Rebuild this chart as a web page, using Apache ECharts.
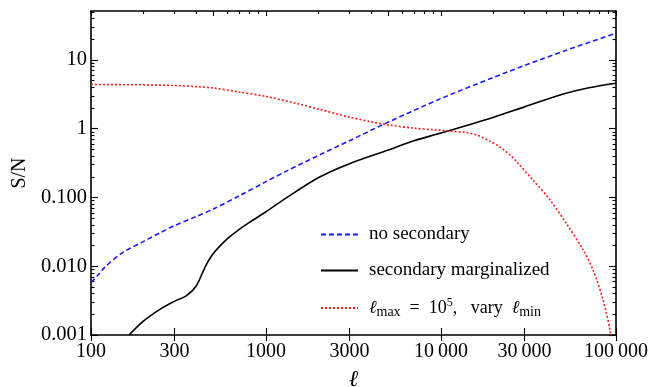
<!DOCTYPE html>
<html><head><meta charset="utf-8">
<script src="https://cdn.jsdelivr.net/npm/echarts@6/dist/echarts.min.js"></script>
<style>html,body{margin:0;padding:0;background:#fff}#c{width:664px;height:387px}</style>
</head><body><div id="c"></div>
<script>
// ---- data ----
const xMajorTicks = [100, 300, 1000, 3000, 10000, 30000, 100000];
const xTickLabels = ['100', '300', '1000', '3000', '10\u2009000', '30\u2009000', '100\u2009000'];
const yMajorTicks = [0.001, 0.01, 0.1, 1, 10];
const yTickLabels = ['0.001', '0.010', '0.100', '1', '10'];

const seriesNames = ['no secondary', 'secondary marginalized', 'lmax'];

const blueL = [100, 110, 120, 150, 200, 250, 300, 400, 500, 700, 1000, 1300, 2000, 3000, 5000, 10000, 20000, 30000, 50000, 100000];
const blueV = [0.0058, 0.0075, 0.0097, 0.0155, 0.023, 0.031, 0.039, 0.053, 0.068, 0.105, 0.17, 0.24, 0.41, 0.67, 1.25, 2.75, 5.6, 8.3, 13.4, 24.5];

const blackL = [165, 200, 250, 300, 350, 400, 450, 500, 600, 700, 800, 1000, 1300, 2000, 3000, 5000, 7000, 10000, 20000, 30000, 50000, 70000, 100000];
const blackV = [0.001, 0.0016, 0.0024, 0.0031, 0.0037, 0.0052, 0.0099, 0.0153, 0.025, 0.034, 0.043, 0.062, 0.098, 0.195, 0.31, 0.49, 0.67, 0.865, 1.47, 2.08, 3.2, 3.95, 4.6];

const redL = [100, 200, 300, 400, 500, 700, 1000, 1500, 2000, 3000, 4000, 5000, 7000, 9000, 11500, 14000, 16000, 19000, 22000, 25000, 27000, 33500, 42000, 52000, 65000, 74000, 84500, 92500, 94000];
const redV = [4.4, 4.35, 4.25, 4.1, 3.92, 3.43, 2.95, 2.33, 1.93, 1.48, 1.26, 1.14, 1.02, 0.97, 0.92, 0.88, 0.81, 0.66, 0.53, 0.41, 0.335, 0.18, 0.092, 0.042, 0.0172, 0.0088, 0.0032, 0.00118, 0.0008];

// ---- tick helpers ----
function minorList(lo, hi) {
  const out = [];
  for (let e = lo; e <= hi; e++) for (let m = 2; m <= 9; m++) out.push(m * Math.pow(10, e));
  return out;
}
function fiveList(lo, hi) {
  const out = [];
  for (let e = lo; e <= hi; e++) { out.push(Math.pow(10, e)); out.push(5 * Math.pow(10, e)); }
  return out;
}
function lookup(vals, labels) {
  return function (v) {
    for (let i = 0; i < vals.length; i++) if (Math.abs(v - vals[i]) / vals[i] < 1e-6) return labels[i];
    return '';
  };
}
const FONT = "'Liberation Serif','Times New Roman',serif";
const X_MIN = 100, X_MAX = 100000, Y_MIN = 0.001, Y_MAX = 51.6;

function xAx(extra) {
  return Object.assign({
    type: 'log', logBase: 10, min: X_MIN, max: X_MAX, gridIndex: 0,
    splitLine: { show: false }, axisLabel: { show: false },
    axisLine: { show: false, lineStyle: { color: '#000', width: 1.6 } }
  }, extra);
}
function yAx(extra) {
  return Object.assign({
    type: 'log', logBase: 10, min: Y_MIN, max: Y_MAX, gridIndex: 0,
    splitLine: { show: false }, axisLabel: { show: false },
    axisLine: { show: false, lineStyle: { color: '#000', width: 1.6 } }
  }, extra);
}
const tickStyle = { color: '#000', width: 1.1 };

const chart = echarts.init(document.getElementById('c'), null, { renderer: 'canvas' });
const zip = (a, b) => a.map((v, i) => [v, b[i]]);

chart.setOption({
  animation: false,
  backgroundColor: '#fff',
  textStyle: { fontFamily: FONT },
  grid: { left: 91, right: 48, top: 11, bottom: 52, containLabel: false, outerBoundsMode: 'none' },
  xAxis: [
    xAx({
      position: 'bottom',
      axisLine: { show: true, lineStyle: { color: '#000', width: 1.6 } },
      axisTick: { show: true, inside: true, length: 7, customValues: xMajorTicks, lineStyle: tickStyle },
      axisLabel: { show: true, customValues: xMajorTicks, formatter: lookup(xMajorTicks, xTickLabels),
        color: '#000', fontSize: 20, fontFamily: FONT, margin: 7 },
      name: '\u2113', nameLocation: 'middle', nameGap: 33,
      nameTextStyle: { fontStyle: 'italic', fontSize: 23, color: '#000', fontFamily: FONT }
    }),
    xAx({ position: 'bottom', axisTick: { show: true, inside: false, length: 6, customValues: xMajorTicks, lineStyle: tickStyle } }),
    xAx({ position: 'top', axisLine: { show: true, lineStyle: { color: '#000', width: 1.6 } },
      axisTick: { show: true, inside: true, length: 3, customValues: minorList(2, 4), lineStyle: tickStyle } }),
    xAx({ position: 'top', axisTick: { show: true, inside: true, length: 5, customValues: fiveList(2, 5), lineStyle: tickStyle } })
  ],
  yAxis: [
    yAx({
      position: 'left',
      axisLine: { show: true, lineStyle: { color: '#000', width: 1.6 } },
      axisTick: { show: true, inside: true, length: 7, customValues: yMajorTicks, lineStyle: tickStyle },
      axisLabel: { show: true, customValues: yMajorTicks, formatter: lookup(yMajorTicks, yTickLabels),
        color: '#000', fontSize: 20.5, fontFamily: FONT, margin: 4 },
      name: 'S/N', nameLocation: 'middle', nameGap: 58, nameRotate: 90,
      nameTextStyle: { fontSize: 20, color: '#000', fontFamily: FONT }
    }),
    yAx({ position: 'left', axisTick: { show: true, inside: true, length: 3.5, customValues: minorList(-3, 1), lineStyle: tickStyle } }),
    yAx({ position: 'right', axisLine: { show: true, lineStyle: { color: '#000', width: 1.6 } },
      axisTick: { show: true, inside: true, length: 7, customValues: yMajorTicks, lineStyle: tickStyle } }),
    yAx({ position: 'right', axisTick: { show: true, inside: true, length: 3.5, customValues: minorList(-3, 1), lineStyle: tickStyle } })
  ],
  legend: {
    show: true, orient: 'vertical', left: 320, top: 225, padding: 0,
    itemWidth: 37, itemHeight: 14, itemGap: 17, selectedMode: false,
    itemStyle: { opacity: 0 },
    data: seriesNames,
    formatter: function (name) {
      if (name === 'lmax') return '{i|\u2113}{s|max}{m|  =  10}{p|5}{m|,   vary  }{i|\u2113}{s|min}';
      return '{b|' + name + '}';
    },
    textStyle: {
      color: '#000', fontFamily: FONT, fontSize: 19, padding: [0, 0, 0, 6],
      rich: {
        b: { fontSize: 19, lineHeight: 22, fontFamily: FONT, color: '#000', verticalAlign: 'middle' },
        m: { fontSize: 18, lineHeight: 22, fontFamily: FONT, color: '#000', verticalAlign: 'middle' },
        i: { fontSize: 18, lineHeight: 22, fontFamily: FONT, fontStyle: 'italic', color: '#000', verticalAlign: 'middle' },
        s: { fontSize: 14, fontFamily: FONT, color: '#000', verticalAlign: 'bottom' },
        p: { fontSize: 12, fontFamily: FONT, color: '#000', verticalAlign: 'top' }
      }
    }
  },
  series: [
    { name: seriesNames[0], type: 'line', xAxisIndex: 0, yAxisIndex: 0, data: zip(blueL, blueV),
      symbol: 'none', smooth: 0.3, clip: true, silent: true,
      lineStyle: { color: '#1a1aff', width: 1.6, type: [5, 3] }, itemStyle: { color: '#1a1aff' } },
    { name: seriesNames[1], type: 'line', xAxisIndex: 0, yAxisIndex: 0, data: zip(blackL, blackV),
      symbol: 'none', smooth: 0.3, clip: true, silent: true,
      lineStyle: { color: '#000', width: 1.6, type: 'solid' }, itemStyle: { color: '#000' } },
    { name: seriesNames[2], type: 'line', xAxisIndex: 0, yAxisIndex: 0, data: zip(redL, redV),
      symbol: 'none', smooth: 0.3, clip: true, silent: true,
      lineStyle: { color: '#ff1a1a', width: 1.6, type: [2, 2] }, itemStyle: { color: '#ff1a1a' } }
  ]
});
</script></body></html>
